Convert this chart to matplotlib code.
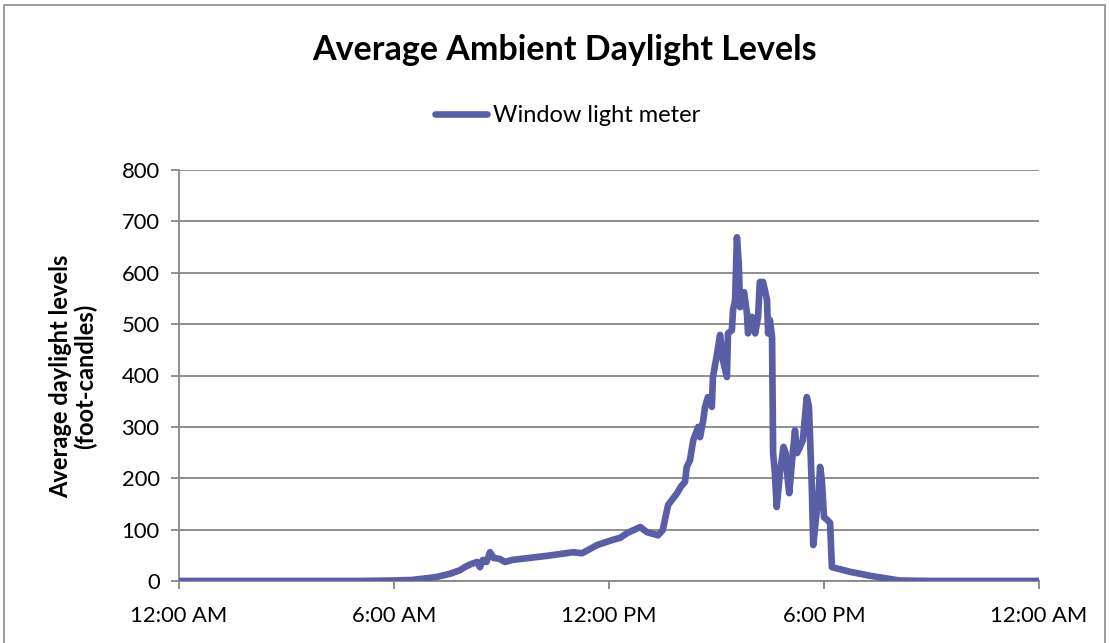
import matplotlib
matplotlib.use("Agg")
import matplotlib.pyplot as plt
from matplotlib.patches import Rectangle

plt.rcParams['font.family'] = ['Lato', 'DejaVu Sans']

hours = [0.0, 5.0, 6.0, 6.5, 7.0, 7.2, 7.56, 7.84, 8.0, 8.15, 8.32, 8.4, 8.48, 8.58,
         8.68, 8.78, 8.95, 9.1, 9.3, 10.27, 11.0, 11.25, 11.67, 12.1, 12.31, 12.5,
         12.87, 13.06, 13.37, 13.5, 13.6, 13.65, 13.9, 14.0, 14.12, 14.17, 14.26,
         14.35, 14.49, 14.54, 14.63, 14.68, 14.76, 14.87, 14.9, 15.0, 15.1, 15.18,
         15.29, 15.32, 15.43, 15.46, 15.52, 15.57, 15.62, 15.66, 15.77, 15.85, 15.88,
         15.99, 16.08, 16.16, 16.21, 16.3, 16.41, 16.44, 16.49, 16.55, 16.58, 16.63,
         16.68, 16.77, 16.87, 16.93, 16.99, 17.03, 17.11, 17.19, 17.25, 17.33, 17.41,
         17.52, 17.58, 17.66, 17.7, 17.8, 17.83, 17.89, 17.94, 18.0, 18.09, 18.17,
         18.22, 18.72, 19.3, 20.1, 21.0, 24.0]
window_light = [0, 0, 1, 2, 6, 8, 14, 21, 28, 33, 37, 27, 41, 37,
                56, 45, 43, 37, 41, 49, 56, 54, 70, 80, 84, 93,
                105, 95, 89, 99, 132, 148, 171, 183, 193, 222, 235,
                274, 300, 280, 313, 339, 358, 339, 397, 436, 479, 430,
                397, 482, 488, 527, 547, 669, 619, 533, 562, 521, 482,
                514, 482, 514, 582, 582, 547, 482, 508, 475, 249, 210,
                144, 210, 261, 249, 196, 171, 235, 293, 249, 261, 274,
                358, 339, 183, 70, 138, 144, 222, 196, 124, 119, 113,
                27, 18, 10, 1, 0, 0]

xtick_pos = [0, 6, 12, 18, 24]
xtick_labels = ["12:00 AM", "6:00 AM", "12:00 PM", "6:00 PM", "12:00 AM"]
yticks = [0, 100, 200, 300, 400, 500, 600, 700, 800]

W, H = 1109, 643
fig = plt.figure(figsize=(W / 100, H / 100), dpi=100)
ax = fig.add_axes([179 / W, 1 - 581 / H, (1039 - 179) / W, (581 - 170) / H])

line_color = "#5A5EA6"
grid_color = "#878787"

ax.plot(hours, window_light, color=line_color, lw=4.8, solid_joinstyle='round',
        solid_capstyle='round', label="Window light meter", zorder=3)

ax.set_xlim(0, 24)
ax.set_ylim(0, 800)
ax.set_xticks(xtick_pos)
ax.set_xticklabels(xtick_labels)
ax.set_yticks(yticks)
ax.yaxis.grid(True, color=grid_color, lw=1.3)
ax.set_axisbelow(True)
for s in ['top', 'right']:
    ax.spines[s].set_visible(False)
for s in ['left', 'bottom']:
    ax.spines[s].set_color(grid_color)
    ax.spines[s].set_linewidth(1.3)
ax.tick_params(axis='both', colors=grid_color, length=6, width=1.3, labelsize=15.8,
               labelcolor='black')
ax.tick_params(axis='x', pad=12)
ax.tick_params(axis='y', pad=8)

fig.text(73 / W, 1 - 376 / H, "Average daylight levels\n(foot-candles)", rotation=90,
         ha='center', va='center', multialignment='center', fontsize=17,
         fontweight='bold', linespacing=1.05)

fig.text(564 / W, 1 - 50 / H, "Average Ambient Daylight Levels", ha='center',
         va='center', fontsize=24.5, fontweight='bold')

leg = fig.legend(loc='center', bbox_to_anchor=(568 / W, 1 - 116 / H), frameon=False,
                 fontsize=17, handlelength=2.2, handletextpad=0.25)

fig.patches.append(Rectangle((4 / W, -0.01), (1105 - 4) / W, 1 - 5 / H + 0.01,
                             transform=fig.transFigure, fill=False,
                             edgecolor="#8c8c8c", lw=1.2))

fig.savefig("out.png", dpi=100)
